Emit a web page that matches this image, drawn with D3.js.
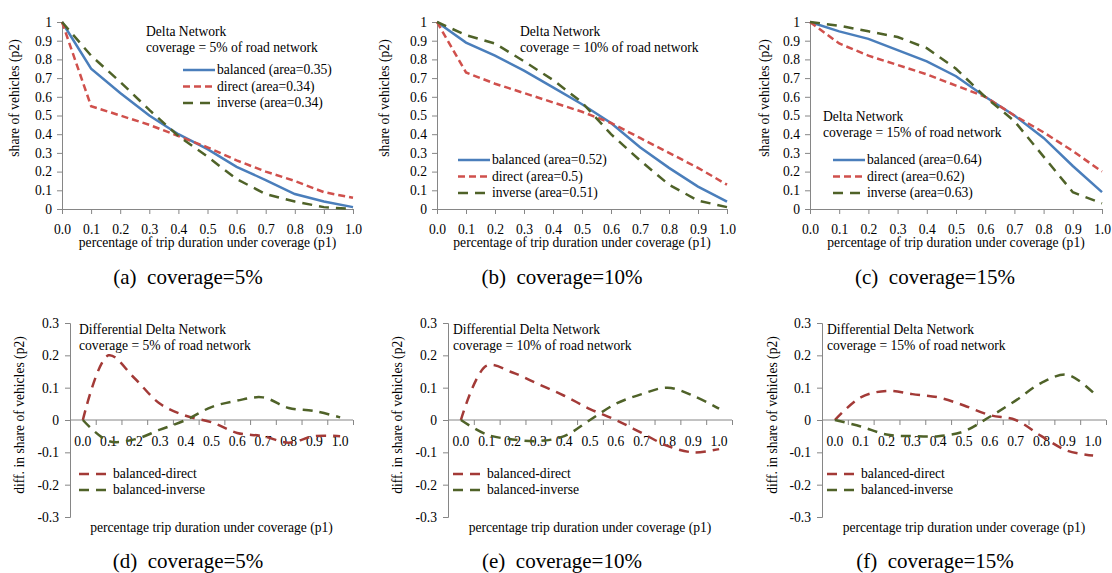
<!DOCTYPE html>
<html>
<meta charset="utf-8">
<head>
<script src="https://d3js.org/d3.v7.min.js"></script>
<style>
  body { margin: 0; background: #fff; }
  text { font-family: "Liberation Serif", "Times New Roman", serif; fill: #000; }
</style>
</head>
<body>
<div id="chart"></div>
<script>

// ---- data ----
var p1 = [0.0, 0.1, 0.2, 0.3, 0.4, 0.5, 0.6, 0.7, 0.8, 0.9, 1.0];
var p1Labels = ["0.0", "0.1", "0.2", "0.3", "0.4", "0.5", "0.6", "0.7", "0.8", "0.9", "1.0"];
var topYTicks = [0, 0.1, 0.2, 0.3, 0.4, 0.5, 0.6, 0.7, 0.8, 0.9, 1];
var topYLabels = ["0", "0.1", "0.2", "0.3", "0.4", "0.5", "0.6", "0.7", "0.8", "0.9", "1"];
var diffYTicks = [-0.3, -0.2, -0.1, 0, 0.1, 0.2, 0.3];
var diffYLabels = ["-0.3", "-0.2", "-0.1", "0", "0.1", "0.2", "0.3"];

// coverage = 5%
var balanced5 = [1, 0.75, 0.62, 0.50, 0.40, 0.32, 0.225, 0.155, 0.08, 0.04, 0.01];
var direct5   = [1, 0.55, 0.50, 0.45, 0.39, 0.33, 0.26, 0.20, 0.15, 0.09, 0.06];
var inverse5  = [1, 0.82, 0.68, 0.53, 0.39, 0.28, 0.16, 0.08, 0.04, 0.01, 0.0];
// coverage = 10%
var balanced10 = [1, 0.89, 0.82, 0.74, 0.65, 0.56, 0.46, 0.33, 0.22, 0.12, 0.04];
var direct10   = [1, 0.73, 0.67, 0.62, 0.57, 0.52, 0.46, 0.38, 0.30, 0.22, 0.13];
var inverse10  = [1, 0.93, 0.885, 0.79, 0.69, 0.57, 0.40, 0.26, 0.13, 0.045, 0.01];
// coverage = 15%
var balanced15 = [1, 0.95, 0.91, 0.85, 0.79, 0.71, 0.60, 0.50, 0.38, 0.23, 0.09];
var direct15   = [1, 0.885, 0.82, 0.77, 0.72, 0.66, 0.60, 0.50, 0.41, 0.31, 0.20];
var inverse15  = [1, 0.98, 0.95, 0.92, 0.86, 0.75, 0.60, 0.47, 0.28, 0.09, 0.03];

// differential curves
var balDirect5   = [0, 0.20, 0.13, 0.05, 0.013, -0.007, -0.04, -0.05, -0.07, -0.05, -0.05];
var balInverse5  = [0, -0.065, -0.06, -0.03, 0.0, 0.04, 0.06, 0.07, 0.037, 0.028, 0.008];
var balDirect10  = [0, 0.168, 0.147, 0.111, 0.075, 0.034, 0.0, -0.04, -0.08, -0.10, -0.09];
var balInverse10 = [0, -0.045, -0.06, -0.065, -0.05, 0.0, 0.05, 0.08, 0.10, 0.075, 0.035];
var balDirect15  = [0, 0.07, 0.09, 0.08, 0.07, 0.045, 0.015, 0.0, -0.05, -0.095, -0.11];
var balInverse15 = [0, -0.02, -0.045, -0.05, -0.05, -0.035, 0.01, 0.06, 0.115, 0.14, 0.085];

var blue = "#4a7ebb", red = "#d0504c", darkRed = "#a33a37", green = "#4f6228", axisGrey = "#868686";
var fs = "13.6px";

var svg = d3.select("#chart").append("svg")
    .attr("width", 1112)
    .attr("height", 573);

// top row panels
var topPanels = [
  {x0: 62, x1: 353, ylabX: 15, pct: "5%", cap: "(a)", capX: 188,
   series: [balanced5, direct5, inverse5], areas: ["0.35", "0.34", "0.34"],
   titleX: 146, titleY: 36, legX: 183, legY: 74},
  {x0: 437, x1: 727, ylabX: 385, pct: "10%", cap: "(b)", capX: 562,
   series: [balanced10, direct10, inverse10], areas: ["0.52", "0.5", "0.51"],
   titleX: 520, titleY: 36, legX: 458, legY: 164},
  {x0: 810, x1: 1102, ylabX: 765, pct: "15%", cap: "(c)", capX: 935,
   series: [balanced15, direct15, inverse15], areas: ["0.64", "0.62", "0.63"],
   titleX: 823, titleY: 121, legX: 833, legY: 164}
];

var names = ["balanced", "direct", "inverse"];
var colors = [blue, red, green];
var dashes = [null, "7,4", "10,7"];

topPanels.forEach(function(p) {
  var x = d3.scaleLinear().domain([0, 1]).range([p.x0, p.x1]);
  var y = d3.scaleLinear().domain([0, 1]).range([209, 22]);
  var g = svg.append("g");

  // y axis
  var ya = g.append("g")
      .attr("transform", "translate(" + p.x0 + ",0)")
      .call(d3.axisLeft(y).tickValues(topYTicks).tickSize(5).tickPadding(5)
        .tickFormat(function(d, i) { return topYLabels[i]; }));
  // x axis
  var xa = g.append("g")
      .attr("transform", "translate(0,209)")
      .call(d3.axisBottom(x).tickValues(p1).tickSize(5).tickPadding(10)
        .tickFormat(function(d, i) { return p1Labels[i]; }));
  [ya, xa].forEach(function(a) {
    a.select(".domain").attr("stroke", axisGrey);
    a.selectAll(".tick line").attr("stroke", axisGrey);
    a.selectAll("text").style("font-size", fs).style("font-family", "Liberation Serif").attr("fill", "#000");
  });

  // lines
  p.series.forEach(function(s, k) {
    g.append("path")
      .datum(s)
      .attr("fill", "none")
      .attr("stroke", colors[k])
      .attr("stroke-width", 2.5)
      .attr("stroke-dasharray", dashes[k])
      .attr("d", d3.line()
        .x(function(d, i) { return x(p1[i]); })
        .y(function(d) { return y(d); }));
  });

  // axis titles
  g.append("text")
    .attr("transform", "translate(" + (p.ylabX + 4) + ",98) rotate(-90)")
    .attr("text-anchor", "middle")
    .style("font-size", fs)
    .text("share of vehicles (p2)");
  g.append("text")
    .attr("x", (p.x0 + p.x1) / 2)
    .attr("y", 247)
    .attr("text-anchor", "middle")
    .style("font-size", fs)
    .text("percentage of trip duration under coverage (p1)");

  // title block
  g.append("text").attr("x", p.titleX).attr("y", p.titleY)
    .style("font-size", fs).text("Delta Network");
  g.append("text").attr("x", p.titleX).attr("y", p.titleY + 16)
    .style("font-size", fs).text("coverage = " + p.pct + " of road network");

  // legend
  names.forEach(function(n, k) {
    var ly = p.legY + k * 16.5;
    g.append("line")
      .attr("x1", p.legX).attr("x2", p.legX + 32)
      .attr("y1", ly - 4).attr("y2", ly - 4)
      .attr("stroke", colors[k]).attr("stroke-width", 2.5)
      .attr("stroke-dasharray", dashes[k]);
    g.append("text").attr("x", p.legX + 34).attr("y", ly)
      .style("font-size", fs)
      .text(n + " (area=" + p.areas[k] + ")");
  });

  // caption
  svg.append("text")
    .attr("x", p.capX).attr("y", 284)
    .attr("text-anchor", "middle")
    .style("font-size", "21px")
    .style("white-space", "pre")
    .text(p.cap + "  coverage=" + p.pct);
});

// bottom row panels
var botPanels = [
  {x0: 70, x1: 353, ylabX: 20, pct: "5%", cap: "(d)", capX: 188,
   series: [balDirect5, balInverse5], titleX: 79, legX: 79},
  {x0: 448, x1: 732, ylabX: 398, pct: "10%", cap: "(e)", capX: 562,
   series: [balDirect10, balInverse10], titleX: 453, legX: 453},
  {x0: 822, x1: 1106, ylabX: 773, pct: "15%", cap: "(f)", capX: 935,
   series: [balDirect15, balInverse15], titleX: 827, legX: 827}
];
var diffNames = ["balanced-direct", "balanced-inverse"];
var diffColors = [darkRed, green];

botPanels.forEach(function(p) {
  var xb = d3.scaleBand().domain(p1Labels).range([p.x0, p.x1]).padding(0);
  var xt = d3.scaleLinear().domain([0, p1Labels.length]).range([p.x0, p.x1]);
  var y = d3.scaleLinear().domain([-0.3, 0.3]).range([517, 323]);
  var g = svg.append("g");

  var ya = g.append("g")
      .attr("transform", "translate(" + p.x0 + ",0)")
      .call(d3.axisLeft(y).tickValues(diffYTicks).tickSize(5).tickPadding(6)
        .tickFormat(function(d, i) { return diffYLabels[i]; }));
  // category boundary ticks along the zero line
  var xa = g.append("g")
      .attr("transform", "translate(0," + y(0) + ")")
      .call(d3.axisBottom(xt).tickValues(d3.range(1, p1Labels.length + 1)).tickSize(5).tickFormat(""));
  xa.select(".domain").remove();
  g.append("line")
    .attr("x1", p.x0).attr("x2", p.x1)
    .attr("y1", y(0)).attr("y2", y(0))
    .attr("stroke", axisGrey);
  [ya, xa].forEach(function(a) {
    a.select(".domain").attr("stroke", axisGrey);
    a.selectAll(".tick line").attr("stroke", axisGrey);
    a.selectAll("text").style("font-size", fs).style("font-family", "Liberation Serif").attr("fill", "#000");
  });
  // category labels
  g.selectAll(".cat")
    .data(p1Labels)
    .enter().append("text")
      .attr("x", function(d) { return xb(d) + xb.bandwidth() / 2; })
      .attr("y", 446)
      .attr("text-anchor", "middle")
      .style("font-size", fs)
      .text(function(d) { return d; });

  p.series.forEach(function(s, k) {
    g.append("path")
      .datum(s)
      .attr("fill", "none")
      .attr("stroke", diffColors[k])
      .attr("stroke-width", 2.5)
      .attr("stroke-dasharray", "10,7")
      .attr("d", d3.line()
        .curve(d3.curveCatmullRom.alpha(0.5))
        .x(function(d, i) { return xb(p1Labels[i]) + xb.bandwidth() / 2; })
        .y(function(d) { return y(d); }));
  });

  g.append("text")
    .attr("transform", "translate(" + (p.ylabX + 4) + ",415) rotate(-90)")
    .attr("text-anchor", "middle")
    .style("font-size", fs)
    .text("diff. in share of vehicles (p2)");
  g.append("text")
    .attr("x", (p.x0 + p.x1) / 2)
    .attr("y", 532)
    .attr("text-anchor", "middle")
    .style("font-size", fs)
    .text("percentage trip duration under coverage (p1)");

  g.append("text").attr("x", p.titleX).attr("y", 334)
    .style("font-size", fs).text("Differential Delta Network");
  g.append("text").attr("x", p.titleX).attr("y", 350)
    .style("font-size", fs).text("coverage = " + p.pct + " of road network");

  diffNames.forEach(function(n, k) {
    var ly = 478 + k * 16;
    g.append("line")
      .attr("x1", p.legX).attr("x2", p.legX + 29)
      .attr("y1", ly - 4).attr("y2", ly - 4)
      .attr("stroke", diffColors[k]).attr("stroke-width", 2.5)
      .attr("stroke-dasharray", "10,7");
    g.append("text").attr("x", p.legX + 34).attr("y", ly)
      .style("font-size", fs)
      .text(n);
  });

  svg.append("text")
    .attr("x", p.capX).attr("y", 568)
    .attr("text-anchor", "middle")
    .style("font-size", "21px")
    .style("white-space", "pre")
    .text(p.cap + "  coverage=" + p.pct);
});
</script>
</body>
</html>
